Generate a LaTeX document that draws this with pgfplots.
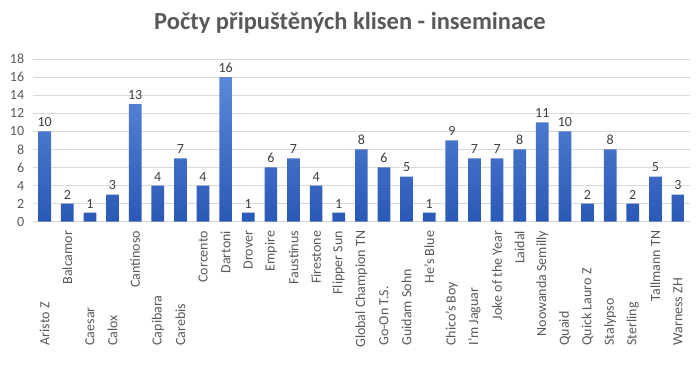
\documentclass[border=0pt]{standalone}
\usepackage{fontspec}
\setmainfont{Carlito}
\usepackage{pgfplots}
\pgfplotsset{compat=1.18}
\definecolor{txt}{HTML}{595959}
\definecolor{lbl}{HTML}{404040}
\definecolor{grd}{HTML}{D9D9D9}
\definecolor{bartop}{HTML}{5B88D9}
\definecolor{barbot}{HTML}{2A58B6}
\begin{document}
\begin{tikzpicture}
\useasboundingbox (0,0) rectangle (700bp,370bp);
\node[text=txt, font=\fontsize{24.5bp}{28bp}\selectfont\bfseries] at (350bp,347bp) {Počty připuštěných klisen - inseminace};
\begin{axis}[
  at={(32.7bp,148.3bp)}, anchor=south west,
  scale only axis, width=657.3bp, height=162.7bp,
  xmin=-0.53, xmax=28.53, ymin=0, ymax=18,
  ytick={0,2,...,18},
  ymajorgrids, grid style={grd, line width=0.8bp},
  axis line style={draw=none},
  major tick length=0pt,
  /pgf/number format/assume math mode=true,
  yticklabel style={font=\fontsize{14bp}{16bp}\selectfont, text=txt, xshift=-5bp},
  xtick={1,4,7,8,9,10,11,12,13,14,17,20,21,22,27},
  xticklabels={Balcamor,Cantinoso,Corcento,Dartoni,Drover,Empire,Faustinus,Firestone,Flipper Sun,Global Champion TN,He's Blue,Joke of the Year,Laidal,Noowanda Semilly,Tallmann TN},
  xticklabel style={yshift=-9bp, rotate=90, anchor=east, inner sep=0pt, font=\fontsize{14bp}{16bp}\selectfont, text=txt},
  extra x ticks={0,2,3,5,6,15,16,18,19,23,24,25,26,28},
  extra x tick labels={Aristo Z,Caesar,Calox,Capibara,Carebis,Go-On T.S.,Guidam Sohn,Chico's Boy,I'm Jaguar,Quaid,Quick Lauro Z,Stalypso,Sterling,Warness ZH},
  extra x tick style={xticklabel style={anchor=west, xshift=-115bp}},
  ybar, bar width=12.7bp,
  nodes near coords,
  every node near coord/.append style={font=\fontsize{14bp}{16bp}\selectfont, text=lbl, yshift=1bp},
]
\addplot[draw=none, top color=bartop, bottom color=barbot] coordinates {
(0,10) (1,2) (2,1) (3,3) (4,13) (5,4) (6,7) (7,4) (8,16) (9,1)
(10,6) (11,7) (12,4) (13,1) (14,8) (15,6) (16,5) (17,1) (18,9) (19,7)
(20,7) (21,8) (22,11) (23,10) (24,2) (25,8) (26,2) (27,5) (28,3)
};
\end{axis}
\end{tikzpicture}
\end{document}
